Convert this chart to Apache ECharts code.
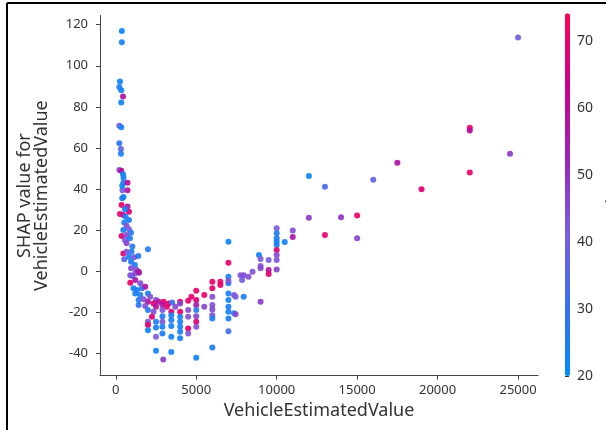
<!DOCTYPE html>
<html>
<head>
<meta charset="utf-8">
<script src="https://cdn.jsdelivr.net/npm/echarts@6/dist/echarts.min.js"></script>
<style>
  html, body { margin: 0; padding: 0; background: #fff; }
  #main { width: 606px; height: 430px; }
</style>
</head>
<body>
<div id="main"></div>
<script>
// VehicleEstimatedValue of each point
const vehicleValue = [
  380, 380, 260, 220, 340, 450, 340, 220, 340, 220, 320, 320, 220, 340, 450, 480, 470, 730, 420, 730, 480,
  400, 400, 360, 730, 820, 570, 260, 470, 610, 820, 530, 670, 470, 820, 950, 360, 670, 570, 880, 670, 1030,
  2000, 470, 670, 980, 530, 820, 1150, 1400, 950, 1190, 950, 1290, 1440, 1030,
  900, 1210, 1420, 900, 1210, 1520, 1100, 1320, 1630, 1830, 1210, 1520, 2000, 2140, 1420, 1730, 2000, 2500,
  1420, 1830, 2350, 2660, 2970, 3280, 3500, 4000, 4500, 5000, 2500, 2900, 3180, 3700, 4000, 5000,
  2000, 2350, 2900, 3450, 4000, 4500, 5000, 2250, 2900, 3450, 4000, 4500, 5000, 2000, 2500, 2900, 3450,
  4000, 5000, 2000, 2000, 2500, 2900, 3450, 4000, 4500, 5000, 2500, 2900, 3450, 4000, 4500, 4000, 2500,
  3450, 2950, 5000, 6000,
  5500, 6000, 6000, 6000, 6500, 6500, 6000, 6000, 6000, 6000, 5500, 7000, 7000, 7000, 7000, 7000, 7000,
  7000, 7000, 7350, 7350, 5000, 4700, 7000, 7000, 7000, 7450, 7450, 7750, 7950, 7850, 7950, 8250, 8500,
  8900, 9000, 9000, 9000, 9000, 9500, 9500, 9500, 10000, 10000, 10000, 10000, 10000, 10000, 10000, 10000,
  10000, 10500, 11000, 11000,
  12000, 12000, 13000, 13000, 14000, 15000, 15000, 16000, 17500, 19000, 22000, 22000, 22000, 24500, 25000
];

// SHAP value for VehicleEstimatedValue
const shapValue = [
  117, 111.5, 92.3, 89.7, 88.1, 85, 82.1, 70.8, 70.1, 62.3, 59.4, 57.1, 49.2, 48.8, 47.2, 45.4, 43, 43, 39.4, 39.4, 36.1,
  41.5, 35.5, 32.2, 31.4, 28.9, 30.1, 27.8, 27.3, 26.5, 24.9, 23.6, 22, 20, 20.3, 18.7, 17.1, 17.6, 15.1, 16, 13.5, 11.9,
  10.6, 8.6, 9.4, 9.4, 5.7, 7, 6.7, 7.3, 4.5, 2.9, 1.3, 0.5, -0.8, -2.4,
  -2, -1.1, -0.3, -5.7, -4.4, -6, -8.4, -9.3, -8.4, -7.7, -10.9, -11.7, -10.9, -12.5, -14.1, -13.8, -15, -14.1,
  -16.6, -17.1, -15.8, -15, -15, -15.8, -15.3, -15, -14.5, -14.1, -17.4, -16.6, -17.4, -17.4, -15.8, -16.6,
  -19, -19.9, -19, -19.9, -19.9, -19, -19, -22.3, -22, -21.5, -22.3, -22.3, -22, -24.7, -24.7, -24.7, -23.9,
  -24.7, -24.7, -26.3, -28.8, -27.5, -27.2, -26.8, -27.2, -28, -27.2, -32, -30.4, -32, -29.6, -30.4, -32.8, -38.9,
  -39.4, -43.1, -42.3, -37.2,
  -11.7, -5.2, -8.4, -12.5, -5.2, -6.8, -16.6, -18.7, -21.5, -23.1, -17.4, -2.8, -6, -10.9, -14.1, -17.4, -19.9,
  -23.1, -29.3, -11.7, -20.6, -9.6, -12.5, 4, 14.3, -4.7, -12.5, -21, -2, -2, -4.4, -12.5, -2.8, -0.3,
  7.8, 5.9, 2.4, 1.3, -15, 5.4, 0.5, -1.5, 20.8, 18.4, 16, 14.3, 12.7, 10.2, 7.8, 5.4,
  0.8, 14.1, 19.7, 16.6,
  46.3, 26, 41.1, 17.6, 26.2, 27, 16, 44.5, 52.8, 39.9, 48, 69.8, 68.5, 57.2, 113.8
];

// Age (colour)
const age = [
  22, 23, 22, 24, 23, 57, 23, 40, 24, 28, 38, 24, 42, 62, 23, 24, 25, 60, 40, 58, 23,
  23, 25, 70, 57, 68, 24, 70, 58, 26, 25, 24, 44, 24, 42, 27, 68, 45, 43, 25, 46, 28,
  27, 70, 44, 27, 36, 24, 45, 26, 25, 27, 45, 46, 56, 25,
  44, 46, 56, 70, 57, 45, 24, 25, 26, 58, 24, 26, 25, 44, 27, 45, 57, 46,
  28, 44, 68, 58, 70, 70, 30, 69, 70, 68, 58, 57, 69, 45, 46, 56,
  26, 44, 44, 68, 70, 45, 27, 68, 26, 25, 25, 44, 46, 44, 25, 43, 26,
  24, 68, 68, 24, 25, 24, 24, 24, 68, 45, 42, 25, 24, 24, 43, 25, 24,
  24, 48, 23, 25,
  70, 70, 69, 45, 70, 70, 44, 45, 43, 26, 46, 24, 25, 24, 24, 25, 24,
  25, 33, 44, 27, 70, 70, 70, 23, 44, 42, 45, 43, 45, 42, 25, 44, 44,
  24, 42, 44, 45, 47, 42, 58, 68, 42, 27, 25, 24, 26, 68, 45, 43,
  46, 24, 44, 56,
  22, 48, 34, 70, 50, 70, 46, 38, 57, 68, 70, 70, 60, 48, 40
];

const xTicks = [0, 5000, 10000, 15000, 20000, 25000];
const yTicks = [-40, -20, 0, 20, 40, 60, 80, 100, 120];
const ageTicks = [20, 30, 40, 50, 60, 70];

const points = vehicleValue.map((v, i) => [v, shapValue[i], age[i]]);

const chart = echarts.init(document.getElementById('main'));
const font = 'Noto Sans';
const txt = '#333';

const option = {
  animation: false,
  textStyle: { fontFamily: font },
  grid: [
    { left: 100, right: 68, top: 15.5, bottom: 54.3 },
    { left: 565, top: 13.3, width: 5, height: 362.7 }
  ],
  xAxis: [
    {
      type: 'value', min: -980, max: 26240,
      name: 'VehicleEstimatedValue', nameLocation: 'middle', nameGap: 26,
      nameTextStyle: { fontSize: 18, color: txt, fontFamily: font },
      splitLine: { show: false },
      axisLine: { onZero: false, lineStyle: { color: '#444' } },
      axisTick: { customValues: xTicks, length: 4, lineStyle: { color: '#444' } },
      axisLabel: {
        customValues: xTicks, fontSize: 13, color: txt, margin: 8, fontFamily: font,
        formatter: v => String(v)
      }
    },
    { gridIndex: 1, type: 'value', min: 0, max: 1, show: false }
  ],
  yAxis: [
    {
      type: 'value', min: -51, max: 124.5,
      name: 'SHAP value for\nVehicleEstimatedValue', nameLocation: 'middle', nameRotate: 90, nameGap: 50,
      nameTextStyle: { fontSize: 18, color: txt, lineHeight: 17, fontFamily: font },
      splitLine: { show: false },
      axisLine: { show: true, onZero: false, lineStyle: { color: '#444' } },
      axisTick: { show: true, customValues: yTicks, length: 4, lineStyle: { color: '#444' } },
      axisLabel: { customValues: yTicks, fontSize: 13, color: txt, margin: 12, fontFamily: font }
    },
    {
      gridIndex: 1, type: 'value', position: 'right', min: 20, max: 74.1,
      splitLine: { show: false },
      axisLine: { show: false },
      axisTick: { show: true, customValues: ageTicks, length: 4, lineStyle: { color: '#333' } },
      axisLabel: { customValues: ageTicks, fontSize: 14, color: txt, margin: 7, fontFamily: font }
    }
  ],
  visualMap: {
    type: 'continuous',
    seriesIndex: 0,
    dimension: 2,
    min: 20, max: 74.1,
    calculable: false,
    left: 565, top: 13.3,
    itemWidth: 5, itemHeight: 362.7,
    padding: 0,
    text: null,
    inRange: { color: ['#008bfb', '#3a6ff0', '#7b5ddf', '#9a25b5', '#c9008f', '#ff0052'] }
  },
  series: [
    {
      type: 'scatter',
      data: points,
      symbolSize: 6,
      itemStyle: { opacity: 0.92 }
    },
    { type: 'scatter', xAxisIndex: 1, yAxisIndex: 1, data: [] }
  ],
  graphic: [
    { type: 'line', shape: { x1: 7, y1: 3, x2: 606, y2: 3 }, style: { stroke: '#000', lineWidth: 2 } },
    { type: 'line', shape: { x1: 7, y1: 3, x2: 7, y2: 430 }, style: { stroke: '#000', lineWidth: 2 } },
    {
      type: 'text', x: 612, y: 192, rotation: Math.PI / 2,
      style: { text: 'Age', font: '16px "Noto Sans"', fill: txt, align: 'center', verticalAlign: 'middle' }
    }
  ]
};

chart.setOption(option);
window.addEventListener('resize', () => {
  chart.resize();
});
</script>
</body>
</html>
